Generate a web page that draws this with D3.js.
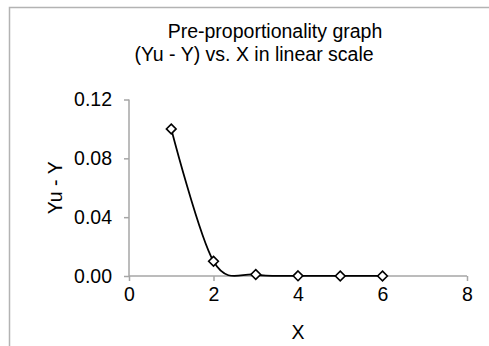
<!DOCTYPE html>
<html>
<head>
<meta charset="utf-8">
<script src="https://cdn.jsdelivr.net/npm/d3@7"></script>
<style>
  html, body { margin: 0; padding: 0; background: #fff; }
  svg { display: block; font-family: "Liberation Sans", Arial, sans-serif; }
</style>
</head>
<body>
<svg id="chart" width="489" height="346"></svg>
<script>
// Pre-proportionality data: difference (Yu - Y) for each X
const xValues = [1, 2, 3, 4, 5, 6];
const diffValues = [0.1, 0.01, 0.001, 0.0001, 0.00001, 0.000001];
const xTicks = [0, 2, 4, 6, 8];
const yTicks = [0, 0.04, 0.08, 0.12];
const titleLines = ["Pre-proportionality graph", "(Yu - Y) vs. X in linear scale"];

const svg = d3.select("#chart");
const axisColor = "#a6a6a6";
const fontSize = 19.5;

// Outer chart frame
svg.append("rect")
  .attr("x", 9.5).attr("y", 7.5)
  .attr("width", 600).attr("height", 600)
  .attr("fill", "none").attr("stroke", "#b3b3b3").attr("stroke-width", 1.5);

const x = d3.scaleLinear().domain([0, 8]).range([129, 467]);
const y = d3.scaleLinear().domain([0, 0.12]).range([276, 99.5]);

// Title
svg.append("text").attr("x", 275).attr("y", 38)
  .attr("text-anchor", "middle").attr("font-size", fontSize).attr("fill", "#000")
  .text(titleLines[0]);
svg.append("text").attr("x", 254).attr("y", 61)
  .attr("text-anchor", "middle").attr("font-size", fontSize).attr("fill", "#000")
  .text(titleLines[1]);

// Y axis
const yAxis = svg.append("g").attr("transform", `translate(${x(0)},0)`)
  .call(d3.axisLeft(y).tickValues(yTicks).tickFormat(d3.format(".2f")).tickSize(5).tickPadding(12));
// X axis
const xAxis = svg.append("g").attr("transform", `translate(0,${y(0)})`)
  .call(d3.axisBottom(x).tickValues(xTicks).tickFormat(d3.format("d")).tickSize(5).tickPadding(6));

[yAxis, xAxis].forEach(g => {
  g.select(".domain").attr("stroke", axisColor).attr("stroke-width", 1.5);
  g.selectAll(".tick line").attr("stroke", axisColor).attr("stroke-width", 1.5);
  g.selectAll(".tick text").attr("fill", "#000").attr("font-size", fontSize)
    .attr("font-family", "'Liberation Sans', Arial, sans-serif");
});
// Plain axis ends without outer-tick hooks
yAxis.select(".domain").attr("d", `M0,${y(0.12)}V${y(0)}`);
xAxis.select(".domain").attr("d", `M${x(0)},0H${x(8)}`);

// Axis titles
svg.append("text").attr("x", x(4)).attr("y", 339)
  .attr("text-anchor", "middle").attr("font-size", fontSize).attr("fill", "#000").text("X");
svg.append("text")
  .attr("transform", `translate(62,${(y(0) + y(0.12)) / 2}) rotate(-90)`)
  .attr("text-anchor", "middle").attr("font-size", fontSize).attr("fill", "#000").text("Yu - Y");

// Smoothed series line
const pts = xValues.map((v, i) => [v, diffValues[i]]);
const line = d3.line().x(d => x(d[0])).y(d => y(d[1])).curve(d3.curveCardinal.tension(0));
svg.append("path").datum(pts).attr("d", line)
  .attr("fill", "none").attr("stroke", "#000").attr("stroke-width", 1.75);

// Diamond markers
const sym = d3.symbol().type(d3.symbolDiamond2).size(60);
svg.selectAll(".marker").data(pts).enter().append("path")
  .attr("class", "marker")
  .attr("transform", d => `translate(${x(d[0])},${y(d[1])})`)
  .attr("d", sym)
  .attr("fill", "#fff").attr("stroke", "#000").attr("stroke-width", 1.6);
</script>
</body>
</html>
